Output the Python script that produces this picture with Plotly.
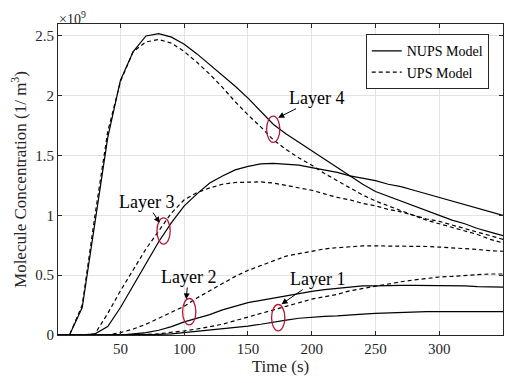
import plotly.graph_objects as go

t = list(range(0, 351, 10))

l4_nups = [0, 0, 0.23, 0.92, 1.65, 2.13, 2.37, 2.50, 2.52, 2.49, 2.43, 2.35, 2.26, 2.17, 2.08, 1.98,
           1.87, 1.76, 1.68, 1.61, 1.54, 1.47, 1.40, 1.33, 1.26, 1.20, 1.16, 1.12, 1.08, 1.04, 1.00,
           0.96, 0.93, 0.89, 0.86, 0.83]
l4_ups = [0, 0, 0.25, 1.00, 1.70, 2.12, 2.37, 2.45, 2.47, 2.44, 2.37, 2.28, 2.18, 2.07, 1.95, 1.84,
          1.74, 1.63, 1.55, 1.48, 1.42, 1.35, 1.29, 1.23, 1.17, 1.12, 1.08, 1.04, 1.00, 0.96, 0.93,
          0.90, 0.87, 0.84, 0.80, 0.77]
l3_nups = [0, 0, 0, 0.01, 0.07, 0.23, 0.41, 0.60, 0.78, 0.94, 1.08, 1.18, 1.27, 1.33, 1.38, 1.41,
           1.43, 1.435, 1.43, 1.42, 1.40, 1.38, 1.36, 1.33, 1.31, 1.29, 1.26, 1.24, 1.21, 1.18, 1.15,
           1.12, 1.09, 1.06, 1.03, 1.00]
l3_ups = [0, 0, 0, 0.01, 0.18, 0.37, 0.55, 0.72, 0.87, 1.02, 1.13, 1.19, 1.23, 1.26, 1.275, 1.28,
          1.28, 1.27, 1.25, 1.23, 1.21, 1.18, 1.15, 1.13, 1.10, 1.08, 1.05, 1.03, 1.00, 0.97, 0.95,
          0.92, 0.89, 0.86, 0.83, 0.80]
l2_nups = [0, 0, 0, 0, 0, 0, 0.01, 0.02, 0.04, 0.07, 0.11, 0.14, 0.17, 0.21, 0.24, 0.27,
           0.29, 0.31, 0.33, 0.35, 0.365, 0.38, 0.39, 0.40, 0.41, 0.41, 0.415, 0.415, 0.415, 0.415,
           0.415, 0.41, 0.41, 0.405, 0.40, 0.40]
l2_ups = [0, 0, 0, 0, 0, 0.02, 0.05, 0.09, 0.14, 0.19, 0.24, 0.31, 0.37, 0.43, 0.49, 0.54,
          0.58, 0.62, 0.66, 0.68, 0.70, 0.72, 0.73, 0.74, 0.745, 0.745, 0.745, 0.745, 0.74, 0.74,
          0.735, 0.73, 0.72, 0.715, 0.705, 0.70]
l1_nups = [0, 0, 0, 0, 0, 0, 0, 0, 0.005, 0.01, 0.02, 0.03, 0.04, 0.05, 0.065, 0.075,
           0.09, 0.11, 0.125, 0.14, 0.15, 0.155, 0.16, 0.17, 0.175, 0.18, 0.185, 0.19, 0.19, 0.195,
           0.195, 0.195, 0.195, 0.195, 0.195, 0.195]
l1_ups = [0, 0, 0, 0, 0, 0, 0, 0.005, 0.01, 0.02, 0.035, 0.05, 0.07, 0.09, 0.12, 0.15,
          0.18, 0.21, 0.24, 0.27, 0.30, 0.32, 0.34, 0.37, 0.39, 0.41, 0.43, 0.445, 0.46, 0.475,
          0.485, 0.49, 0.50, 0.505, 0.51, 0.51]

x_ticks = [50, 100, 150, 200, 250, 300, 350]
y_ticks = [0, 0.5e9, 1e9, 1.5e9, 2e9, 2.5e9]
y_tick_text = ["0", "0.5", "1", "1.5", "2", "2.5"]

layer_labels = ["Layer 4", "Layer 3", "Layer 2", "Layer 1"]
label_pos = [(204, 1.98), (70.3, 1.11), (103, 0.485), (204.7, 0.468)]
arrow_head = [(173.7, 1.817), (80.7, 0.938), (101.6, 0.298), (176.3, 0.257)]
ellipse_c = [(169.8, 1.72), (83.8, 0.87), (103.9, 0.195), (173.7, 0.145)]
ell_rx = 5.2
ell_ry = 0.11

FONT = "Liberation Serif, Times New Roman, serif"
TXT = "#262626"

fig = go.Figure()
series = [
    (l4_nups, "NUPS Model", "solid", True),
    (l4_ups, "UPS Model", "4px,3px", True),
    (l3_nups, "NUPS Model", "solid", False),
    (l3_ups, "UPS Model", "4px,3px", False),
    (l2_nups, "NUPS Model", "solid", False),
    (l2_ups, "UPS Model", "4px,3px", False),
    (l1_nups, "NUPS Model", "solid", False),
    (l1_ups, "UPS Model", "4px,3px", False),
]
for vals, name, dash, show in series:
    fig.add_trace(go.Scatter(
        x=t, y=[v * 1e9 for v in vals], mode="lines", name=name,
        showlegend=show, line=dict(color="black", width=1.2, dash=dash)))

for lab, lp, hd, ec in zip(layer_labels, label_pos, arrow_head, ellipse_c):
    fig.add_shape(type="circle", xref="x", yref="y",
                  x0=ec[0] - ell_rx, x1=ec[0] + ell_rx,
                  y0=(ec[1] - ell_ry) * 1e9, y1=(ec[1] + ell_ry) * 1e9,
                  line=dict(color="#b5162e", width=1.3))
    fig.add_annotation(x=hd[0], y=hd[1] * 1e9, ax=lp[0], ay=lp[1] * 1e9,
                       xref="x", yref="y", axref="x", ayref="y", text=lab,
                       showarrow=True, arrowhead=2, arrowsize=1.2, arrowwidth=1,
                       arrowcolor="black", borderpad=0,
                       font=dict(family=FONT, size=18, color="black"))

fig.add_annotation(x=0, y=1, xref="paper", yref="paper", xanchor="left", yanchor="bottom",
                   text="×10<sup>9</sup>", showarrow=False, yshift=-4, borderpad=0,
                   font=dict(family=FONT, size=14, color=TXT))

axis_common = dict(showline=True, linecolor=TXT, linewidth=1, mirror="ticks",
                   ticks="inside", ticklen=4, tickcolor=TXT,
                   showgrid=True, gridcolor="#e3e3e3", gridwidth=1, zeroline=False,
                   tickfont=dict(family=FONT, size=15, color=TXT))

fig.update_xaxes(range=[1, 350], tickvals=x_ticks,
                 title=dict(text="Time (s)", font=dict(family=FONT, size=17, color=TXT),
                            standoff=4),
                 **axis_common)
fig.update_yaxes(range=[0, 2.6e9], tickvals=y_ticks, ticktext=y_tick_text,
                 title=dict(text="Molecule Concentration (1/ m<sup>3</sup>)",
                            font=dict(family=FONT, size=17, color=TXT), standoff=4),
                 **axis_common)

# the page adds an 8 px body margin, so the figure is 8 px smaller than the window
fig.update_layout(
    width=506, height=375,
    margin=dict(l=50, r=10, t=16, b=41),
    plot_bgcolor="white", paper_bgcolor="white",
    legend=dict(x=0.968, y=0.967, xanchor="right", yanchor="top",
                bgcolor="white", bordercolor=TXT, borderwidth=1,
                font=dict(family=FONT, size=14, color="black"),
                itemwidth=30, tracegroupgap=0),
)

fig.write_html("out.html")
